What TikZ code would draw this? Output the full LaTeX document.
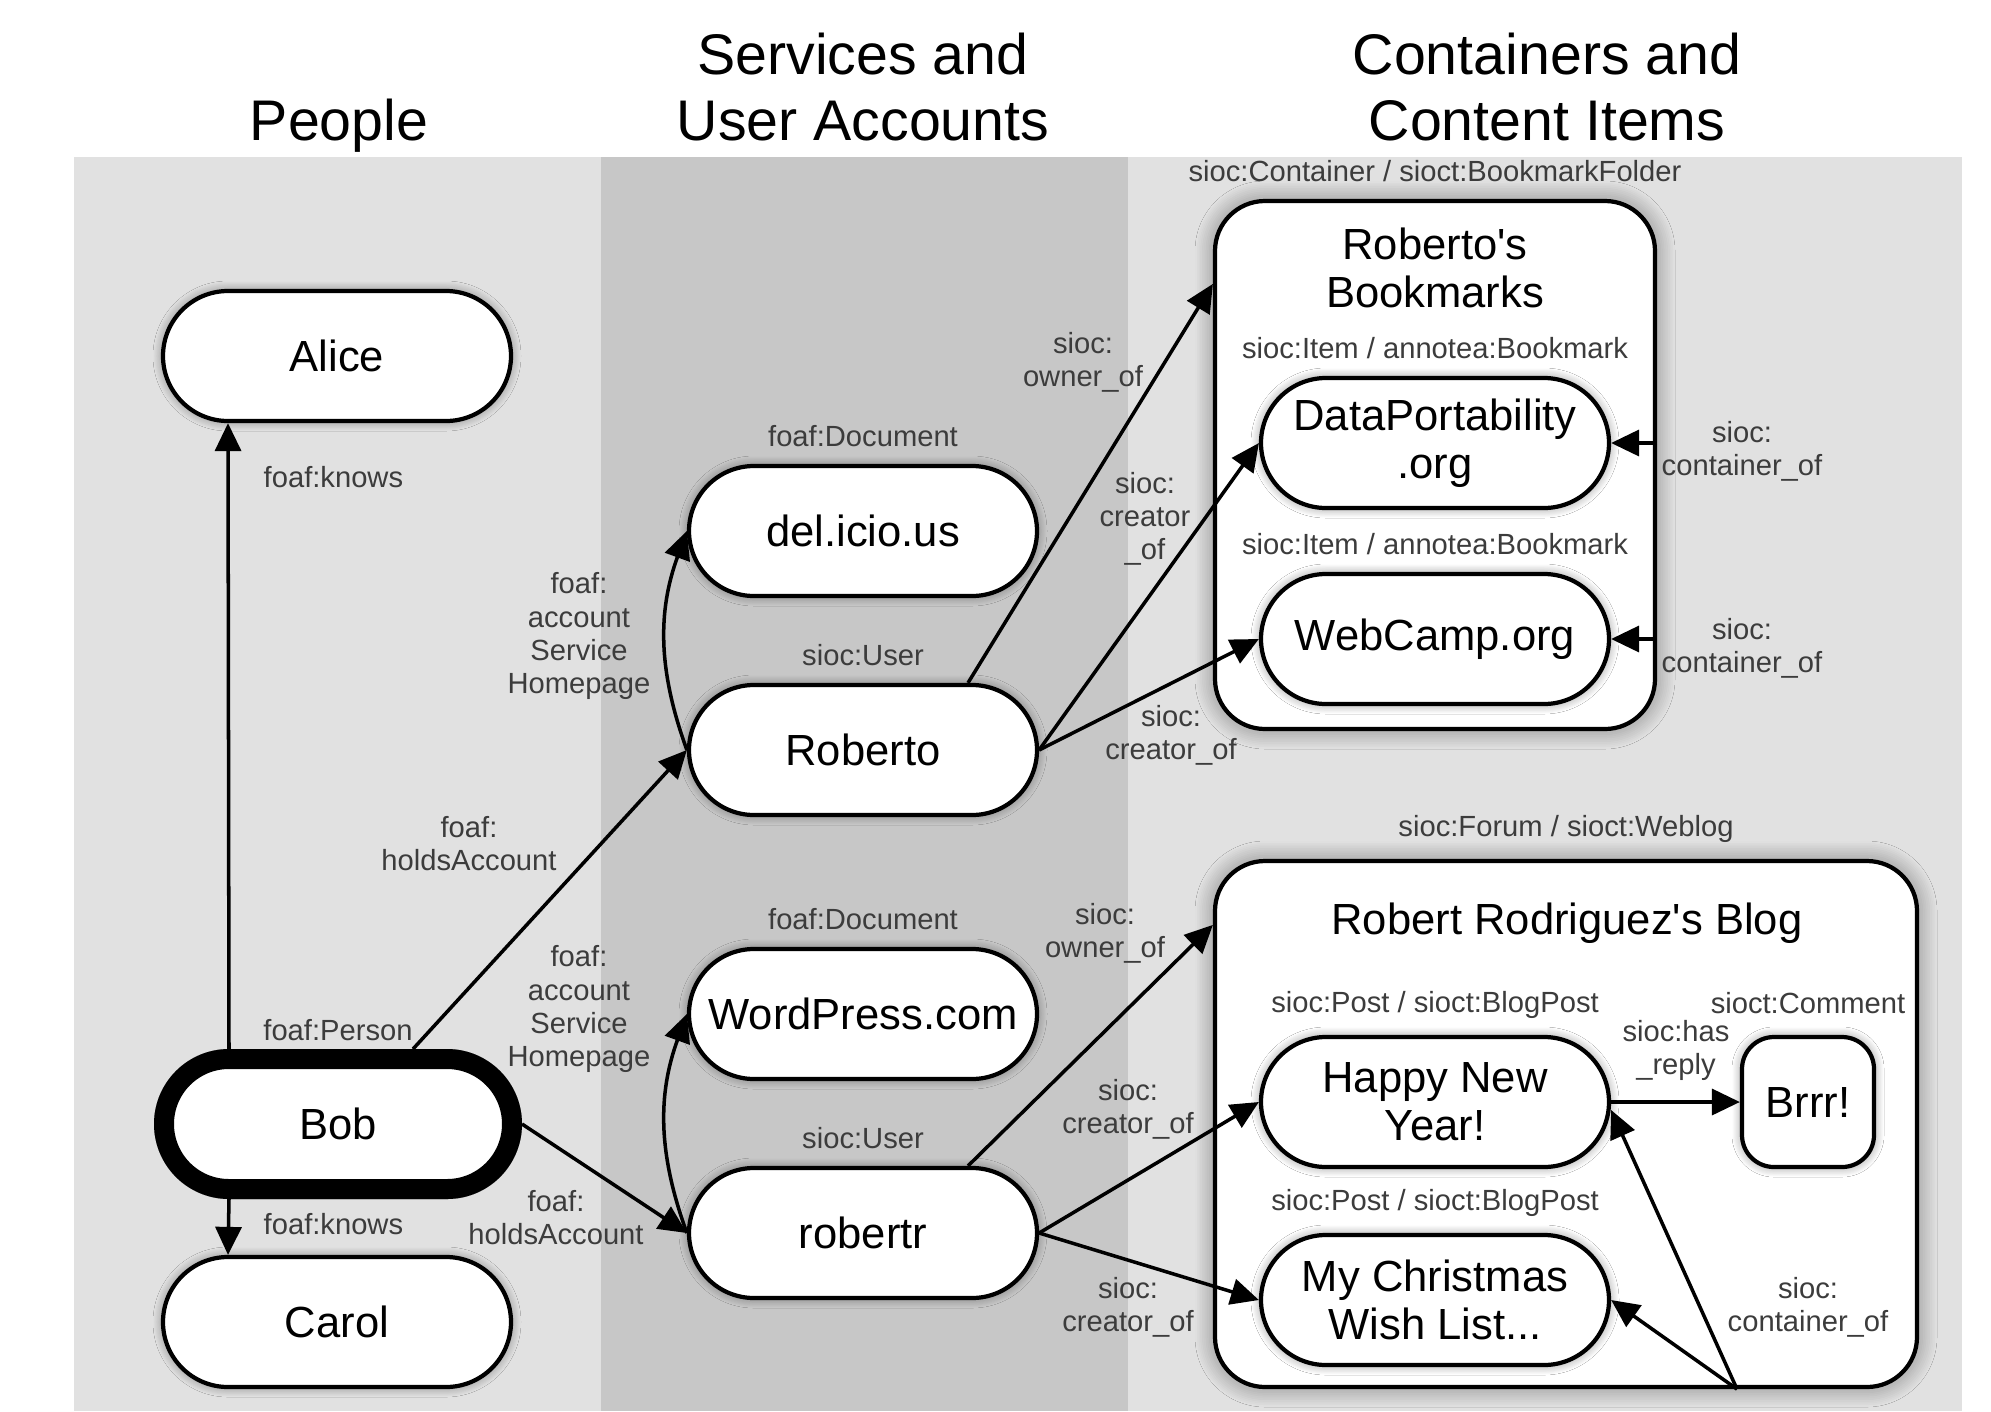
\documentclass[tikz,border=0pt]{standalone}
\usepackage{fontspec}
\setmainfont{Liberation Sans}[Ligatures=TeXOff]
\usetikzlibrary{positioning,arrows.meta,shadows.blur}

\definecolor{panellight}{HTML}{E1E1E1}
\definecolor{paneldark}{HTML}{C7C7C7}
\definecolor{lblgray}{HTML}{3C3C3C}

\tikzset{
  halo/.style={blur shadow={shadow xshift=0pt,shadow yshift=0pt,shadow blur radius=#1,
    shadow blur steps=12,shadow opacity=45}},
  halo/.default=0.1cm,
  thing/.style={draw,line width=1.2pt,fill=white,rounded corners=0.65cm,minimum width=3.48cm,
    minimum height=1.30cm,align=center,font=\fontsize{12.4}{13.7}\selectfont,halo},
  me/.style={thing,line width=0.2cm},
  holder/.style={draw,line width=1.2pt,fill=white,rounded corners=0.5cm,halo=0.2cm},
  reply/.style={thing,rounded corners=0.32cm,minimum width=1.32cm},
  heading/.style={align=center,font=\fontsize{16.3}{18.8}\selectfont},
  holdername/.style={align=center,font=\fontsize{12.4}{13.7}\selectfont},
  lbl/.style={align=center,inner sep=0pt,text=lblgray,font=\fontsize{8.3}{9.4}\selectfont},
  typelbl/.style={lbl,above=0.16cm of #1},
  arr/.style={-{Triangle[length=0.28cm,width=0.26cm]},line width=1pt}
}

\begin{document}
\begin{tikzpicture}
\useasboundingbox (0,0) rectangle (19.91,-14.11);
\fill[panellight] (0.74,-1.57) rectangle (6.01,-14.11);
\fill[paneldark] (6.01,-1.57) rectangle (11.28,-14.11);
\fill[panellight] (11.28,-1.57) rectangle (19.62,-14.11);

\node[heading] (hpeople) at (3.39,-1.26) {People};
\node[heading] (hservices) at (8.63,-0.87) {Services and\\User Accounts};
\node[heading] (hcontent) at (15.47,-0.87) {Containers and\\Content Items};

\node[holder,minimum width=4.40cm,minimum height=5.28cm] (bookmarks) at (14.35,-4.65) {};
\node[holder,minimum width=7.02cm,minimum height=5.26cm] (blog) at (15.66,-11.24) {};
\node[holdername] (bmkname) at (14.35,-2.68) {Roberto's\\Bookmarks};
\node[holdername] (blogname) at (15.67,-9.23) {Robert Rodriguez's Blog};

\node[thing] (alice) at (3.37,-3.56) {Alice};
\node[me] (bob) at (3.38,-11.24) {Bob};
\node[thing] (carol) at (3.37,-13.22) {Carol};
\node[thing] (delicious) at (8.63,-5.31) {del.icio.us};
\node[thing] (roberto) at (8.63,-7.50) {Roberto};
\node[thing] (wordpress) at (8.63,-10.14) {WordPress.com};
\node[thing] (robertr) at (8.63,-12.33) {robertr};
\node[thing] (dataport) at (14.35,-4.43) {DataPortability\\.org};
\node[thing] (webcamp) at (14.35,-6.39) {WebCamp.org};
\node[thing] (happynew) at (14.35,-11.02) {Happy New\\Year!};
\node[reply] (brrr) at (18.08,-11.02) {Brrr!};
\node[thing] (xmaslist) at (14.35,-13.00) {My Christmas\\Wish List...};

\node[lbl,above=0.08cm of bob] (tperson) {foaf:Person};
\node[typelbl=delicious] (tdoc1) {foaf:Document};
\node[typelbl=roberto] (tuser1) {sioc:User};
\node[typelbl=wordpress] (tdoc2) {foaf:Document};
\node[typelbl=robertr] (tuser2) {sioc:User};
\node[typelbl=bookmarks] (tfolder) {sioc:Container / sioct:BookmarkFolder};
\node[typelbl=dataport] (titem1) {sioc:Item / annotea:Bookmark};
\node[typelbl=webcamp] (titem2) {sioc:Item / annotea:Bookmark};
\node[typelbl=blog] (tweblog) {sioc:Forum / sioct:Weblog};
\node[typelbl=happynew] (tpost1) {sioc:Post / sioct:BlogPost};
\node[typelbl=xmaslist] (tpost2) {sioc:Post / sioct:BlogPost};
\node[lbl,above=0.2cm of brrr] (tcomment) {sioct:Comment};

\coordinate (blogfoot) at ([xshift=1.71cm]blog.south);

\draw[arr] ([xshift=-1.09cm]bob.north) -- ([xshift=-1.09cm]alice.south);
\draw[arr] ([xshift=-1.09cm]bob.south) -- ([xshift=-1.09cm]carol.north);
\draw[arr] ([xshift=0.75cm]bob.north) -- (roberto.west);
\draw[arr] (bob.east) -- (robertr.west);
\draw[arr] (roberto.west) to[bend left=20] (delicious.west);
\draw[arr] (robertr.west) to[bend left=20] (wordpress.west);
\draw[arr] ([xshift=1.05cm]roberto.north) -- ([yshift=-0.85cm]bookmarks.north west);
\draw[arr] (roberto.east) -- (dataport.west);
\draw[arr] (roberto.east) -- (webcamp.west);
\draw[arr] ([xshift=1.05cm]robertr.north) -- ([yshift=-0.66cm]blog.north west);
\draw[arr] (robertr.east) -- (happynew.west);
\draw[arr] (robertr.east) -- (xmaslist.west);
\draw[arr] (bookmarks.east |- dataport.east) -- (dataport.east);
\draw[arr] (bookmarks.east |- webcamp.east) -- (webcamp.east);
\draw[arr] (happynew.east) -- (brrr.west);
\draw[arr] (blogfoot) -- ([yshift=-0.08cm]happynew.east);
\draw[arr] (blogfoot) -- (xmaslist.east);

\node[lbl,anchor=west] (lknows1) at (2.63,-4.77) {foaf:knows};
\node[lbl,anchor=west] (lknows2) at (2.63,-12.24) {foaf:knows};
\node[lbl] (lholds1) at (4.69,-8.44) {foaf:\\holdsAccount};
\node[lbl] (lholds2) at (5.56,-12.18) {foaf:\\holdsAccount};
\node[lbl] (lservice1) at (5.79,-6.36) {foaf:\\account\\Service\\Homepage};
\node[lbl] (lservice2) at (5.79,-10.09) {foaf:\\account\\Service\\Homepage};
\node[lbl] (lowner1) at (10.83,-3.62) {sioc:\\owner\_of};
\node[lbl] (lcreator1) at (11.45,-5.19) {sioc:\\creator\\\_of};
\node[lbl] (lcreator2) at (11.71,-7.35) {sioc:\\creator\_of};
\node[lbl] (lowner2) at (11.05,-9.33) {sioc:\\owner\_of};
\node[lbl] (lcreator3) at (11.28,-11.09) {sioc:\\creator\_of};
\node[lbl] (lcreator4) at (11.28,-13.07) {sioc:\\creator\_of};
\node[lbl] (lcontain1) at (17.42,-4.51) {sioc:\\container\_of};
\node[lbl] (lcontain2) at (17.42,-6.48) {sioc:\\container\_of};
\node[lbl] (lreply) at (16.76,-10.50) {sioc:has\\\_reply};
\node[lbl] (lcontain3) at (18.08,-13.07) {sioc:\\container\_of};
\end{tikzpicture}
\end{document}
